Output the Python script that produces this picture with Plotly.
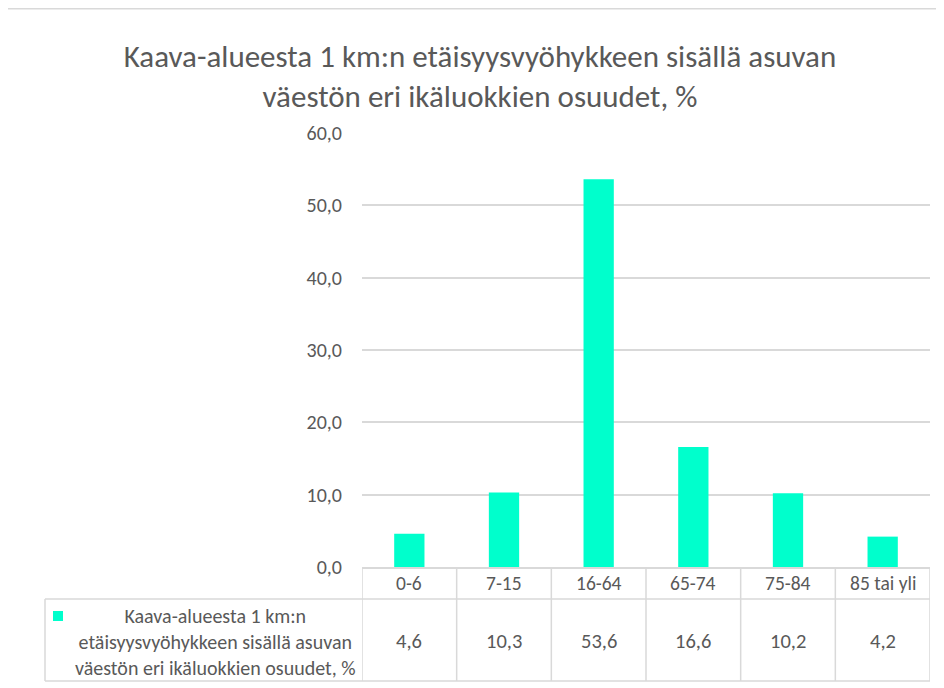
import plotly.graph_objects as go

categories = ["0-6", "7-15", "16-64", "65-74", "75-84", "85 tai yli"]
values = [4.6, 10.3, 53.6, 16.6, 10.2, 4.2]
value_labels = ["4,6", "10,3", "53,6", "16,6", "10,2", "4,2"]
series_name = "Kaava-alueesta 1 km:n etäisyysvyöhykkeen sisällä asuvan väestön eri ikäluokkien osuudet, %"
title_text = "Kaava-alueesta 1 km:n etäisyysvyöhykkeen sisällä asuvan<br>väestön eri ikäluokkien osuudet, %"
legend_text = "Kaava-alueesta 1 km:n<br>etäisyysvyöhykkeen sisällä asuvan<br>väestön eri ikäluokkien osuudet, %"
y_ticks = [0, 10, 20, 30, 40, 50, 60]

BAR = "#00FFCC"
GRID = "#D9D9D9"
TXT = "#595959"
FONT = "Carlito, Lato, sans-serif"

OFF = 8  # page body margin
W, H = 944 - OFF, 688 - OFF
L, R, T, B = 362, 930, 133, 567  # plot area in screen pixels


def px_x(px):
    return (px - L) / (R - L)


def px_y(py):
    return (B - py) / (B - T)


fig = go.Figure()
fig.add_trace(go.Bar(x=categories, y=values, marker=dict(color=BAR, line=dict(width=0)),
                     name=series_name, showlegend=False))

shapes = []
line_style = dict(color=GRID, width=1.5)
# outer chart border
shapes.append(dict(type="rect", xref="paper", yref="paper", x0=px_x(4), x1=px_x(980),
                   y0=px_y(720), y1=px_y(8.5), line=dict(color=GRID, width=2), layer="below"))
# table horizontal lines
for py in [599, 681]:
    shapes.append(dict(type="line", xref="paper", yref="paper", x0=px_x(45), x1=1,
                       y0=px_y(py), y1=px_y(py), line=line_style))
# left border of legend cell
shapes.append(dict(type="line", xref="paper", yref="paper", x0=px_x(45), x1=px_x(45),
                   y0=px_y(599), y1=px_y(681), line=line_style))
# vertical lines at category boundaries
for i in range(len(categories) + 1):
    shapes.append(dict(type="line", xref="x", yref="paper", x0=i - 0.5, x1=i - 0.5,
                       y0=px_y(567), y1=px_y(681), line=line_style))
# legend marker
shapes.append(dict(type="rect", xref="paper", yref="paper", x0=px_x(53), x1=px_x(63),
                   y0=px_y(621), y1=px_y(611), fillcolor=BAR, line=dict(width=0)))

annotations = []
for i, (c, v) in enumerate(zip(categories, value_labels)):
    annotations.append(dict(x=c, y=px_y(583), xref="x", yref="paper", text=c, showarrow=False,
                            font=dict(family=FONT, size=19.5, color=TXT), xanchor="center", yanchor="middle"))
    annotations.append(dict(x=c, y=px_y(641), xref="x", yref="paper", text=v, showarrow=False,
                            font=dict(family=FONT, size=20.5, color=TXT), xanchor="center", yanchor="middle"))
annotations.append(dict(x=px_x(215), y=px_y(642), xref="paper", yref="paper", text=legend_text,
                        showarrow=False, align="center", xanchor="center", yanchor="middle",
                        font=dict(family=FONT, size=20, color=TXT)))

fig.update_layout(
    width=W, height=H,
    margin=dict(l=L - OFF, r=W - (R - OFF), t=T - OFF, b=H - (B - OFF), pad=0),
    paper_bgcolor="white", plot_bgcolor="white",
    separators=", ",
    title=dict(text=title_text, x=(480 - OFF) / W, xanchor="center", xref="container",
               y=1 - (66.5 - OFF) / H, yanchor="middle",
               font=dict(family=FONT, size=31, color=TXT)),
    bargap=0.68,
    xaxis=dict(type="category", range=[-0.5, len(categories) - 0.5], showticklabels=False,
               showgrid=False, showline=True, linecolor=GRID, linewidth=1.5, ticks="", zeroline=False),
    yaxis=dict(range=[0, 60], tickvals=y_ticks, tickformat=".1f", showgrid=True, gridcolor=GRID,
               gridwidth=1.5, zeroline=False, showline=False, ticks="", ticklabelstandoff=19,
               tickfont=dict(family=FONT, size=20, color=TXT)),
    shapes=shapes,
    annotations=annotations,
    showlegend=False,
)

fig.write_html("out.html")
